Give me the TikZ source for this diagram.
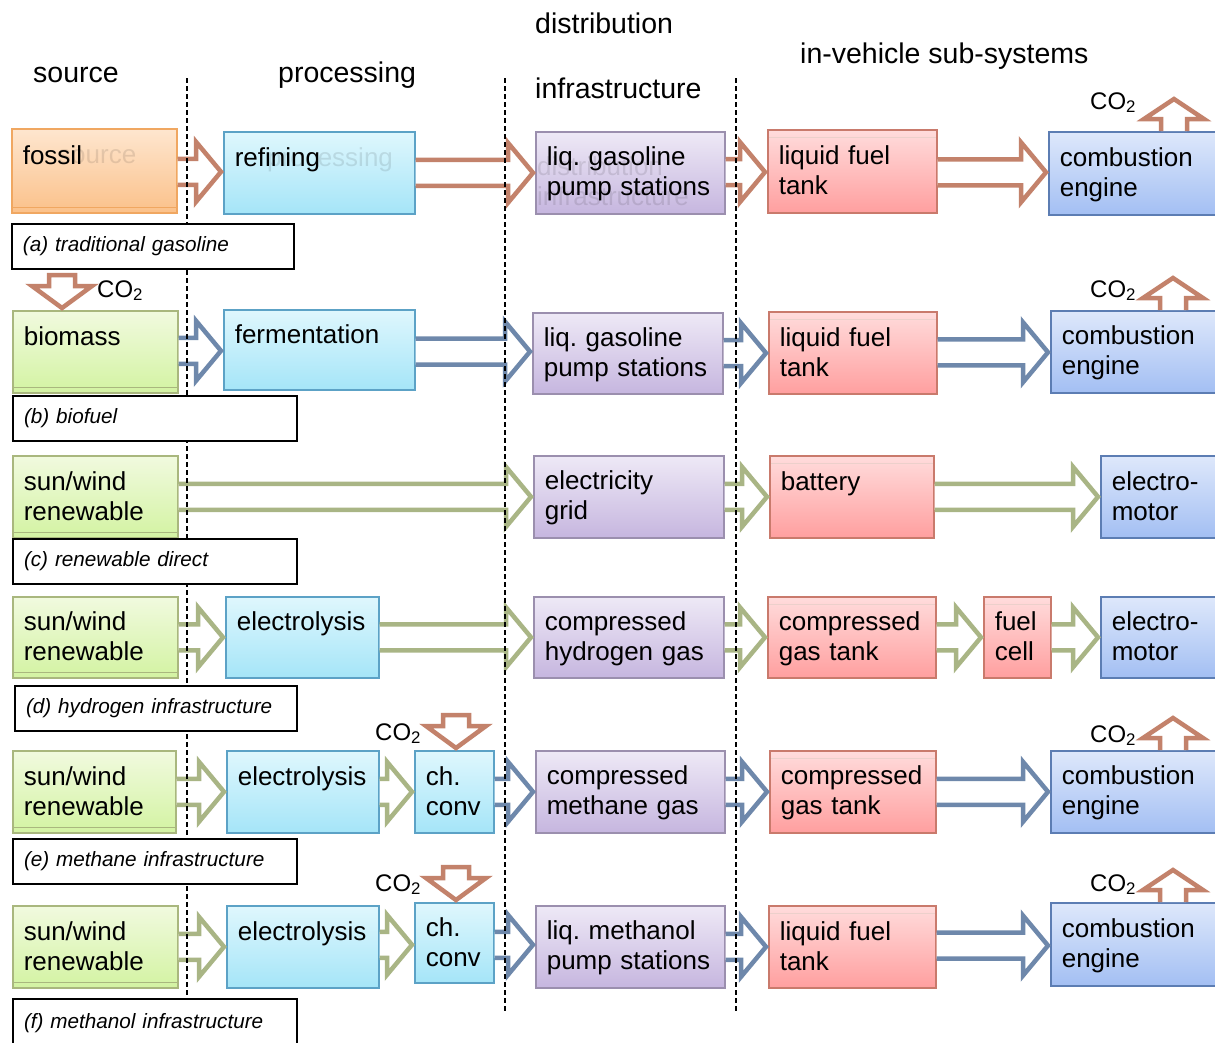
\documentclass[tikz,border=0pt]{standalone}
\usepackage{fontspec}
\setmainfont{Liberation Sans}
\usepackage{tikz}
\usetikzlibrary{calc, positioning}
\frenchspacing

\definecolor{srctop}{HTML}{FEE6CF}
\definecolor{srcbot}{HTML}{FBC18A}
\definecolor{srcline}{HTML}{F0A761}
\definecolor{bioTop}{HTML}{F1FADF}
\definecolor{bioBot}{HTML}{D3F3A2}
\definecolor{bioline}{HTML}{A9B77E}
\definecolor{proctop}{HTML}{DFF7FD}
\definecolor{procbot}{HTML}{A5E5F8}
\definecolor{procline}{HTML}{5CA2C6}
\definecolor{disttop}{HTML}{EEE9F6}
\definecolor{distbot}{HTML}{C6B6DF}
\definecolor{distline}{HTML}{9B8FAE}
\definecolor{tanktop}{HTML}{FFDCDC}
\definecolor{tankbot}{HTML}{FF9F9F}
\definecolor{tankline}{HTML}{C97A6C}
\definecolor{engtop}{HTML}{DEE8FB}
\definecolor{engbot}{HTML}{A3BFF3}
\definecolor{engline}{HTML}{5C7DB3}
\definecolor{fossilarr}{HTML}{C3826B}
\definecolor{bioarr}{HTML}{6E88AB}
\definecolor{elecarr}{HTML}{A9B585}

\newcommand{\boxfont}{\fontsize{26pt}{30pt}\selectfont}
\newcommand{\headfont}{\fontsize{28.5pt}{34pt}\selectfont}
\newcommand{\casefont}{\fontsize{20.7pt}{24pt}\selectfont\itshape}
\newcommand{\cofont}{\fontsize{24pt}{28pt}\selectfont}
\newcommand{\bstrut}{\rule[-4pt]{0pt}{25pt}}

% fat outline arrow, box to box
\newcommand{\flow}[3]{%
  \filldraw[fat, draw=#1] let \p1=(#2.east), \p2=(#3.west), \p3=($(#2.east)!0.5!(#3.west)$) in
    (\x1,\y3+13pt) -- (\x2-27pt,\y3+13pt) -- (\x2-27pt,\y3+30pt) -- (\x2-2pt,\y3)
    -- (\x2-27pt,\y3-30pt) -- (\x2-27pt,\y3-13pt) -- (\x1,\y3-13pt);}
% CO2 leaving a box
\newcommand{\coup}[2]{%
  \filldraw[fat, draw=fossilarr] let \p1=([xshift=#2pt]#1.north west) in
    (\x1-13pt,\y1) -- (\x1-13pt,\y1+12pt) -- (\x1-30pt,\y1+12pt) -- (\x1,\y1+32pt)
    -- (\x1+30pt,\y1+12pt) -- (\x1+13pt,\y1+12pt) -- (\x1+13pt,\y1);}
% CO2 taken up by a box
\newcommand{\codown}[2]{%
  \filldraw[fat, draw=fossilarr] let \p1=([xshift=#2pt]#1.north west) in
    (\x1,\y1+2pt) -- (\x1-30pt,\y1+24pt) -- (\x1-13pt,\y1+24pt) -- (\x1-13pt,\y1+35pt)
    -- (\x1+13pt,\y1+35pt) -- (\x1+13pt,\y1+24pt) -- (\x1+30pt,\y1+24pt) -- cycle;}

\tikzset{
  stage/.style={draw, line width=1.6pt, rectangle, anchor=north west, inner xsep=11pt, inner ysep=0pt,
    align=left, font=\boxfont, execute at begin node=\bstrut, execute at end node=\bstrut},
  source/.style={stage, draw=srcline, top color=srctop, bottom color=srcbot,
    path picture={\draw[srcline, line width=1pt] ([yshift=5pt]path picture bounding box.south west) -- ([yshift=5pt]path picture bounding box.south east);}},
  renew/.style={stage, draw=bioline, top color=bioTop, bottom color=bioBot,
    path picture={\draw[bioline, line width=1pt] ([yshift=5pt]path picture bounding box.south west) -- ([yshift=5pt]path picture bounding box.south east);}},
  proc/.style={stage, draw=procline, top color=proctop, bottom color=procbot},
  dist/.style={stage, draw=distline, top color=disttop, bottom color=distbot},
  store/.style={stage, draw=tankline, top color=tanktop, bottom color=tankbot,
    path picture={\draw[tankline!35, line width=1pt] ([yshift=-8pt]path picture bounding box.north west) -- ([yshift=-8pt]path picture bounding box.north east);}},
  drive/.style={stage, draw=engline, top color=engtop, bottom color=engbot},
  casebox/.style={draw, line width=2pt, fill=white, anchor=north west, inner xsep=11pt, minimum height=45pt, align=left, font=\casefont},
  head/.style={font=\headfont, anchor=base west, inner sep=0pt},
  cotext/.style={font=\cofont, anchor=base west, inner sep=0pt},
  ghost/.style={font=\boxfont, anchor=base west, inner sep=0pt, text=black, text opacity=0.1},
  fat/.style={fill=white, line width=4.5pt, line join=miter},
  divider/.style={line width=1.3pt, dash pattern=on 5pt off 3pt}
}

\begin{document}
\begin{tikzpicture}[x=1pt, y=-1pt]

	\useasboundingbox (0,0) rectangle (1215,1042);

	% column headings
	\node [head] (hsrc) at (33,82) {source};
	\node [head] (hproc) at (278,82) {processing};
	\node [head] (hdist) at (535,33) {distribution};
	\node [head] (hinfra) at (535,98) {infrastructure};
	\node [head] (hveh) at (800,63) {in-vehicle sub-systems};

	% (a) traditional gasoline
	\node [source] (fossil) at (11,128) [text width=143pt, minimum height=84pt] {fossil\\};
	\node [proc] (refining) at (223,131) [text width=169pt, minimum height=82pt] {refining\\};
	\node [dist] (pumpA) at (535,131) [text width=167pt, minimum height=82pt] {liq. gasoline\\pump stations};
	\node [store] (tankA) at (767,129) [text width=147pt, minimum height=83pt] {liquid fuel\\tank};
	\node [drive] (engineA) at (1048,131) [text width=150pt, minimum height=83pt] {combustion\\engine};
	\node [ghost] (ghostsrc) at (58,163) {source};
	\node [ghost] (ghostproc) at (267,166) {processing};
	\node [ghost] (ghostdist) at (537,175) {distribution};
	\node [ghost] (ghostinfra) at (537,205) {infrastructure};

	% (b) biofuel
	\node [renew] (biomass) at (12,310) [text width=143pt, minimum height=82pt] {biomass\\};
	\node [proc] (ferment) at (223,309) [text width=169pt, minimum height=80pt] {fermentation\\};
	\node [dist] (pumpB) at (532,312) [text width=168pt, minimum height=81pt] {liq. gasoline\\pump stations};
	\node [store] (tankB) at (768,311) [text width=146pt, minimum height=82pt] {liquid fuel\\tank};
	\node [drive] (engineB) at (1050,310) [text width=150pt, minimum height=82pt] {combustion\\engine};

	% (c) renewable direct
	\node [renew] (renewC) at (12,455) [text width=143pt, minimum height=82pt] {sun/wind\\renewable};
	\node [dist] (gridC) at (533,455) [text width=168pt, minimum height=82pt] {electricity\\grid};
	\node [store] (battC) at (769,455) [text width=142pt, minimum height=82pt] {battery\\};
	\node [drive] (motorC) at (1100,455) [text width=100pt, minimum height=82pt] {electro-\\motor};

	% (d) hydrogen infrastructure
	\node [renew] (renewD) at (12,596) [text width=143pt, minimum height=81pt] {sun/wind\\renewable};
	\node [proc] (elecD) at (225,596) [text width=131pt, minimum height=81pt] {electrolysis\\};
	\node [dist] (hydroD) at (533,596) [text width=168pt, minimum height=81pt] {compressed\\hydrogen gas};
	\node [store] (tankD) at (767,596) [text width=146pt, minimum height=81pt] {compressed\\gas tank};
	\node [store] (cellD) at (983,596) [text width=45pt, minimum height=81pt] {fuel\\cell};
	\node [drive] (motorD) at (1100,596) [text width=100pt, minimum height=81pt] {electro-\\motor};

	% (e) methane infrastructure
	\node [renew] (renewE) at (12,750) [text width=141pt, minimum height=82pt] {sun/wind\\renewable};
	\node [proc] (elecE) at (226,750) [text width=130pt, minimum height=82pt] {electrolysis\\};
	\node [proc] (convE) at (414,750) [text width=57pt, minimum height=82pt] {ch.\\conv};
	\node [dist] (methE) at (535,750) [text width=167pt, minimum height=82pt] {compressed\\methane gas};
	\node [store] (tankE) at (769,750) [text width=144pt, minimum height=82pt] {compressed\\gas tank};
	\node [drive] (engineE) at (1050,750) [text width=150pt, minimum height=82pt] {combustion\\engine};

	% (f) methanol infrastructure
	\node [renew] (renewF) at (12,905) [text width=143pt, minimum height=82pt] {sun/wind\\renewable};
	\node [proc] (elecF) at (226,905) [text width=130pt, minimum height=82pt] {electrolysis\\};
	\node [proc] (convF) at (414,902) [text width=57pt, minimum height=80pt] {ch.\\conv};
	\node [dist] (methF) at (535,905) [text width=167pt, minimum height=82pt] {liq. methanol\\pump stations};
	\node [store] (tankF) at (768,905) [text width=145pt, minimum height=82pt] {liquid fuel\\tank};
	\node [drive] (engineF) at (1050,902) [text width=150pt, minimum height=83pt] {combustion\\engine};

	% flows
	\flow{fossilarr}{fossil}{refining}
	\flow{fossilarr}{refining}{pumpA}
	\flow{fossilarr}{pumpA}{tankA}
	\flow{fossilarr}{tankA}{engineA}

	\flow{bioarr}{biomass}{ferment}
	\flow{bioarr}{ferment}{pumpB}
	\flow{bioarr}{pumpB}{tankB}
	\flow{bioarr}{tankB}{engineB}

	\flow{elecarr}{renewC}{gridC}
	\flow{elecarr}{gridC}{battC}
	\flow{elecarr}{battC}{motorC}

	\flow{elecarr}{renewD}{elecD}
	\flow{elecarr}{elecD}{hydroD}
	\flow{elecarr}{hydroD}{tankD}
	\flow{elecarr}{tankD}{cellD}
	\flow{elecarr}{cellD}{motorD}

	\flow{elecarr}{renewE}{elecE}
	\flow{elecarr}{elecE}{convE}
	\flow{bioarr}{convE}{methE}
	\flow{bioarr}{methE}{tankE}
	\flow{bioarr}{tankE}{engineE}

	\flow{elecarr}{renewF}{elecF}
	\flow{elecarr}{elecF}{convF}
	\flow{bioarr}{convF}{methF}
	\flow{bioarr}{methF}{tankF}
	\flow{bioarr}{tankF}{engineF}

	% CO2 in and out
	\coup{engineA}{126}
	\coup{engineB}{123}
	\coup{engineE}{123}
	\coup{engineF}{123}
	\codown{biomass}{50}
	\codown{convE}{42}
	\codown{convF}{42}

	\node [cotext] (coA) at (1090,109) {CO\textsubscript{2}};
	\node [cotext] (coB1) at (97,297) {CO\textsubscript{2}};
	\node [cotext] (coB2) at (1090,297) {CO\textsubscript{2}};
	\node [cotext] (coE1) at (375,740) {CO\textsubscript{2}};
	\node [cotext] (coE2) at (1090,742) {CO\textsubscript{2}};
	\node [cotext] (coF1) at (375,891) {CO\textsubscript{2}};
	\node [cotext] (coF2) at (1090,891) {CO\textsubscript{2}};

	% column borders
	\draw [divider] (187,78) -- (187,1042);
	\draw [divider] (505,78) -- (505,1012);
	\draw [divider] (736,78) -- (736,1012);

	% case labels
	\node [casebox] (caseA) at (11,223) [text width=260pt] {(a) traditional gasoline};
	\node [casebox] (caseB) at (12,395) [text width=262pt] {(b) biofuel};
	\node [casebox] (caseC) at (12,538) [text width=262pt] {(c) renewable direct};
	\node [casebox] (caseD) at (14,685) [text width=260pt] {(d) hydrogen infrastructure};
	\node [casebox] (caseE) at (12,838) [text width=262pt] {(e) methane infrastructure};
	\node [casebox] (caseF) at (12,998) [text width=262pt, minimum height=48pt] {(f) methanol infrastructure};

\end{tikzpicture}
\end{document}
